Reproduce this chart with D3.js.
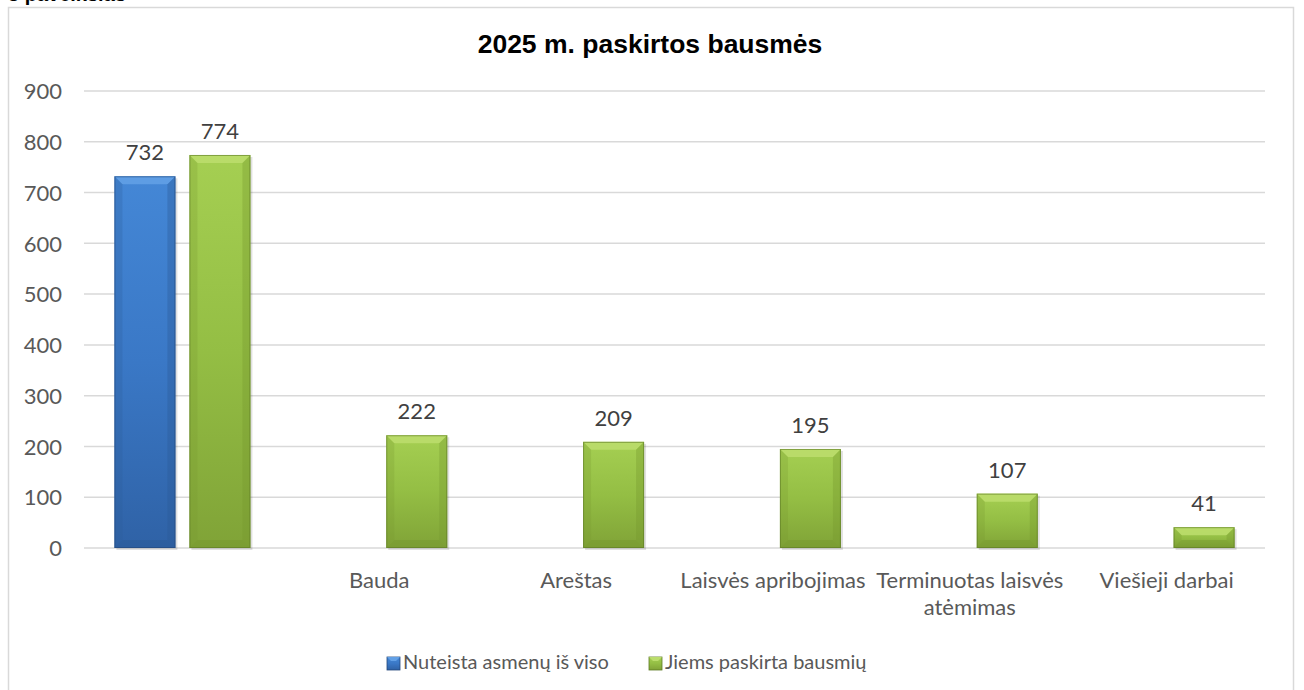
<!DOCTYPE html>
<html><head><meta charset="utf-8">
<script src="https://cdn.jsdelivr.net/npm/d3@7"></script>
<style>body{margin:0;background:#fff}svg{display:block}</style>
</head><body>
<svg id="c" width="1304" height="690"></svg>
<script>
const categories = ["", "Bauda", "Areštas", "Laisvės apribojimas", "Terminuotas laisvės atėmimas", "Viešieji darbai"];
const seriesNames = ["Nuteista asmenų iš viso", "Jiems paskirta bausmių"];
const totalConvicted = [732, null, null, null, null, null];
const penaltiesAssigned = [774, 222, 209, 195, 107, 41];
const yTicks = [0, 100, 200, 300, 400, 500, 600, 700, 800, 900];
const title = "2025 m. paskirtos bausmės";

const svg = d3.select("#c");
const FONT = "Lato, 'Open Sans', sans-serif";
const FS = 22;
const defs = svg.append("defs");
const palettes = [
  {face:["#4487d6","#3a78c6","#2f62a6"], top:"#62a0e6", side:"#2c5a96", edge:"#23487a"},
  {face:["#a5cf52","#94be44","#80a337"], top:"#bbdd6c", side:"#76972f", edge:"#5e7a25"}
];
palettes.forEach((p,i)=>{
  const g = defs.append("linearGradient").attr("id","g"+i).attr("x1",0).attr("y1",0).attr("x2",0).attr("y2",1);
  g.append("stop").attr("offset","0%").attr("stop-color",p.face[0]);
  g.append("stop").attr("offset","50%").attr("stop-color",p.face[1]);
  g.append("stop").attr("offset","100%").attr("stop-color",p.face[2]);
});

// partially cut-off heading above chart (only its lowest part is visible)
svg.append("text").attr("x",8).attr("y",1).attr("font-family","'Liberation Sans', Arial, sans-serif")
  .attr("font-weight","bold").attr("font-size",20).attr("fill","#000").text("3 paveikslas");

// chart border
svg.append("rect").attr("x",8.5).attr("y",7.5).attr("width",1285).attr("height",700)
  .attr("fill","#fff").attr("stroke","#d9d9d9").attr("stroke-width",1.5);

svg.append("text").attr("x",650).attr("y",53).attr("text-anchor","middle")
  .attr("font-family","'Liberation Sans', Arial, sans-serif").attr("font-weight","bold")
  .attr("font-size",26.5).attr("fill","#000").text(title);

const pLeft = 84, pRight = 1265, pTop = 91, pBottom = 548;
const x = d3.scaleBand().domain(d3.range(categories.length)).range([pLeft,pRight]).paddingInner(0).paddingOuter(0);
const y = d3.scaleLinear().domain([0,900]).range([pBottom,pTop]);
const barW = 61, gap = 14;

// gridlines
svg.append("g").selectAll("line").data(yTicks).join("line")
  .attr("x1",pLeft).attr("x2",pRight).attr("y1",d=>y(d)).attr("y2",d=>y(d))
  .attr("stroke","#d9d9d9").attr("stroke-width",1.5);

// y axis labels
const yAxis = d3.axisLeft(y).tickValues(yTicks).tickSize(0).tickPadding(0);
const ya = svg.append("g").attr("transform",`translate(62,0)`).call(yAxis);
ya.select(".domain").remove();
ya.selectAll("text").attr("font-family",FONT).attr("font-size",FS).attr("fill","#595959").attr("dy","0.35em");

// bars
function drawBar(g, x0, v, pi){
  const p = palettes[pi];
  const yt = y(v), yb = y(0), w = barW, h = yb - yt;
  const b = Math.min(8, h/2);
  g.append("rect").attr("x",x0+2).attr("y",yt+2).attr("width",w).attr("height",h).attr("fill","#000").attr("opacity",0.12);
  g.append("rect").attr("x",x0).attr("y",yt).attr("width",w).attr("height",h).attr("fill",`url(#g${pi})`);
  g.append("polygon").attr("points",[[x0,yt],[x0+w,yt],[x0+w-b,yt+b],[x0+b,yt+b]].join(" ")).attr("fill",p.top).attr("opacity",0.9);
  g.append("polygon").attr("points",[[x0,yt],[x0+b,yt+b],[x0+b,yb-b],[x0,yb]].join(" ")).attr("fill",p.side).attr("opacity",0.25);
  g.append("polygon").attr("points",[[x0+w,yt],[x0+w-b,yt+b],[x0+w-b,yb-b],[x0+w,yb]].join(" ")).attr("fill",p.side).attr("opacity",0.35);
  g.append("polygon").attr("points",[[x0,yb],[x0+b,yb-b],[x0+w-b,yb-b],[x0+w,yb]].join(" ")).attr("fill",p.side).attr("opacity",0.45);
  g.append("rect").attr("x",x0+0.5).attr("y",yt+0.5).attr("width",w-1).attr("height",h-1).attr("fill","none").attr("stroke",p.edge).attr("stroke-width",1).attr("opacity",0.6);
  g.append("text").attr("x",x0+w/2).attr("y",yt-16).attr("text-anchor","middle")
    .attr("font-family",FONT).attr("font-size",FS).attr("fill","#404040").text(v);
}
const bars = svg.append("g");
[totalConvicted, penaltiesAssigned].forEach((series, si)=>{
  series.forEach((v,i)=>{
    if(v==null) return;
    const c = x(i) + x.bandwidth()/2;
    const x0 = si===0 ? c - gap/2 - barW : c + gap/2;
    drawBar(bars, x0, v, si);
  });
});

// category labels with wrapping
const cl = svg.append("g");
categories.forEach((name,i)=>{
  const c = x(i) + x.bandwidth()/2;
  const t = cl.append("text").attr("x",c).attr("y",588).attr("text-anchor","middle")
    .attr("font-family",FONT).attr("font-size",FS).attr("fill","#595959");
  const words = name.split(" ");
  let line = [];
  let ts = t.append("tspan").attr("x",c).attr("dy",0);
  words.forEach(w=>{
    line.push(w);
    ts.text(line.join(" "));
    if(ts.node().getComputedTextLength() > x.bandwidth()+2 && line.length>1){
      line.pop(); ts.text(line.join(" "));
      line=[w];
      ts = t.append("tspan").attr("x",c).attr("dy",27).text(w);
    }
  });
});

// legend
const lg = svg.append("g");
const legX = [387, 649];
seriesNames.forEach((n,i)=>{
  const p = palettes[i];
  const gx = legX[i], gy = 657;
  lg.append("rect").attr("x",gx).attr("y",gy).attr("width",13).attr("height",13).attr("fill",`url(#g${i})`).attr("stroke",p.edge).attr("stroke-width",0.8);
  lg.append("polygon").attr("points",[[gx,gy],[gx+13,gy],[gx+9,gy+4],[gx+4,gy+4]].join(" ")).attr("fill",p.top);
  lg.append("text").attr("x",gx+16).attr("y",669).attr("font-family",FONT).attr("font-size",20).attr("fill","#595959").text(n);
});
</script>
</body></html>
